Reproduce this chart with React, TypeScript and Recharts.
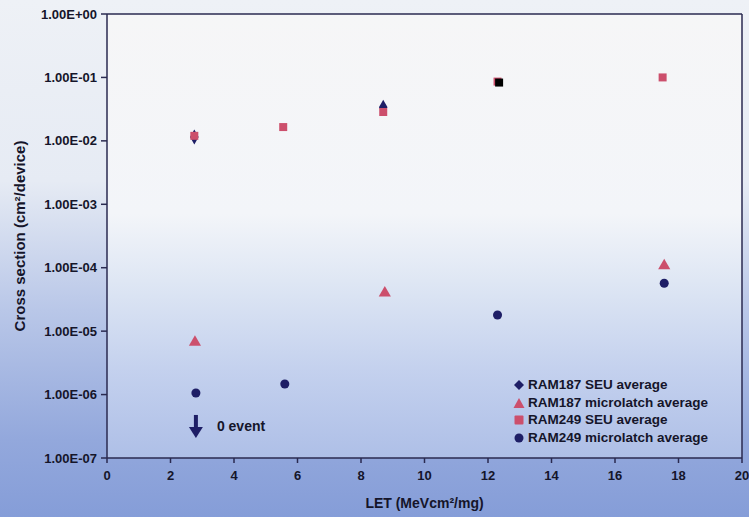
import { ScatterChart, Scatter, XAxis, YAxis, ZAxis, ReferenceLine, CartesianGrid } from 'recharts';

// valeurs (LET en MeVcm²/mg, section efficace en cm²/device)
const RAM187_SEU_X = [2.75, 8.7];
const RAM187_SEU_Y = [1.15e-2, 3.4e-2];
const RAM187_ML_X = [2.77, 8.75, 17.55];
const RAM187_ML_Y = [6.7e-6, 4.0e-5, 1.07e-4];
const RAM249_SEU_X = [2.75, 5.55, 8.7, 12.3, 17.5];
const RAM249_SEU_Y = [1.2e-2, 1.65e-2, 2.85e-2, 8.6e-2, 1.0e-1];
const RAM249_ML_X = [2.8, 5.6, 12.3, 17.55];
const RAM249_ML_Y = [1.06e-6, 1.47e-6, 1.8e-5, 5.7e-5];
const MARK_X = [12.35];
const MARK_Y = [8.3e-2];
const ZERO_EVENT_X = [2.8];
const ZERO_EVENT_Y = [3.2e-7];

const X_TICKS = [0, 2, 4, 6, 8, 10, 12, 14, 16, 18, 20];
const Y_TICKS = [1e-7, 1e-6, 1e-5, 1e-4, 1e-3, 1e-2, 1e-1, 1];

const NAVY = '#1e1e66';
const RED = '#cc4f6c';
const AXIS = '#2a2a50';
const TEXT = '#15152a';
const FONT = '"Liberation Sans", Arial, sans-serif';

const toPoints = (xs: number[], ys: number[]) => xs.map((x, i) => ({ x, y: ys[i] }));

const fmtSci = (v: number) => {
    const e = Math.round(Math.log10(v));
    return `1.00E${e >= 0 ? '+' : '-'}${String(Math.abs(e)).padStart(2, '0')}`;
};

const LEGEND = [
    { label: 'RAM187 SEU average', shape: 'diamond', color: NAVY },
    { label: 'RAM187 microlatch average', shape: 'triangle', color: RED },
    { label: 'RAM249 SEU average', shape: 'square', color: RED },
    { label: 'RAM249 microlatch average', shape: 'circle', color: NAVY },
];

function LegendIcon({ shape, color }: { shape: string; color: string }) {
    return (
        <svg width={12} height={12} style={{ marginRight: 3 }}>
            {shape === 'diamond' && <polygon points="6,1 11,6 6,11 1,6" fill={color} />}
            {shape === 'triangle' && <polygon points="6,1 11.5,11 0.5,11" fill={color} />}
            {shape === 'square' && <rect x={1.5} y={1.5} width={9} height={9} rx={1} fill={color} />}
            {shape === 'circle' && <circle cx={6} cy={6} r={4.5} fill={color} />}
        </svg>
    );
}

function LegendBox() {
    return (
        <div style={{
            position: 'absolute', left: 513, top: 376,
            fontFamily: FONT, fontWeight: 700, fontSize: 13.5, color: TEXT, lineHeight: '17.7px',
        }}>
            {LEGEND.map((l) => (
                <div key={l.label} style={{ display: 'flex', alignItems: 'center', whiteSpace: 'nowrap' }}>
                    <LegendIcon shape={l.shape} color={l.color} />
                    <span>{l.label}</span>
                </div>
            ))}
        </div>
    );
}

// flèche "0 event"
const ZeroEvent = (props: any) => {
    const { cx, cy } = props;
    return (
        <g>
            <line x1={cx} y1={cy - 11} x2={cx} y2={cy + 3} stroke={NAVY} strokeWidth={4} />
            <polygon points={`${cx - 7},${cy + 1} ${cx + 7},${cy + 1} ${cx},${cy + 12}`} fill={NAVY} />
            <text x={cx + 21} y={cy + 5} fontFamily={FONT} fontWeight={700} fontSize={14} fill={TEXT}>0 event</text>
        </g>
    );
};

export default function App() {
    return (
        <div style={{
            position: 'absolute', left: 0, top: 0, width: 749, height: 517,
            background: 'linear-gradient(180deg, #eef1f6 0%, #e6ebf4 35%, #b9c7e8 60%, #93a8dc 85%, #859dd8 100%)',
        }}>
            <svg width={0} height={0} style={{ position: 'absolute' }}>
                <defs>
                    <linearGradient id="plotBg" x1="0" y1="0" x2="0" y2="1">
                        <stop offset="0%" stopColor="#f6f6f7" />
                        <stop offset="45%" stopColor="#f3f5f9" />
                        <stop offset="60%" stopColor="#dfe7f4" />
                        <stop offset="80%" stopColor="#c4d1ee" />
                        <stop offset="100%" stopColor="#aebfe7" />
                    </linearGradient>
                </defs>
            </svg>
            <ScatterChart width={749} height={517} margin={{ top: 14, right: 7, bottom: 0, left: 0 }}>
                <CartesianGrid fill="url(#plotBg)" horizontal={false} vertical={false} />
                <XAxis
                    type="number" dataKey="x" domain={[0, 20]} ticks={X_TICKS} height={59}
                    allowDataOverflow stroke={AXIS} strokeWidth={1.5} tickSize={5} tickMargin={8}
                    tick={{ fontFamily: FONT, fontWeight: 700, fontSize: 13, fill: TEXT }}
                    label={{ value: 'LET (MeVcm²/mg)', position: 'insideBottom', offset: 9, fontFamily: FONT, fontWeight: 700, fontSize: 14, fill: TEXT }}
                />
                <YAxis
                    type="number" dataKey="y" scale="log" domain={[1e-7, 1]} ticks={Y_TICKS} width={107}
                    allowDataOverflow stroke={AXIS} strokeWidth={1.5} tickSize={6} tickMargin={4}
                    tickFormatter={fmtSci}
                    tick={{ fontFamily: FONT, fontWeight: 700, fontSize: 13, fill: TEXT }}
                    label={{ value: 'Cross section (cm²/device)', angle: -90, position: 'insideLeft', offset: 20, style: { textAnchor: 'middle' }, fontFamily: FONT, fontWeight: 700, fontSize: 15, fill: TEXT }}
                />
                <ZAxis range={[80, 80]} />
                <ReferenceLine y={1} stroke={AXIS} strokeWidth={1.5} />
                <ReferenceLine x={20} stroke={AXIS} strokeWidth={1.5} />
                <Scatter name="RAM187 SEU average" data={toPoints(RAM187_SEU_X, RAM187_SEU_Y)} shape="diamond" fill={NAVY} isAnimationActive={false} />
                <Scatter name="RAM249 SEU average" data={toPoints(RAM249_SEU_X, RAM249_SEU_Y)} shape="square" fill={RED} isAnimationActive={false} />
                <Scatter name="RAM187 microlatch average" data={toPoints(RAM187_ML_X, RAM187_ML_Y)} shape="triangle" fill={RED} isAnimationActive={false} />
                <Scatter name="RAM249 microlatch average" data={toPoints(RAM249_ML_X, RAM249_ML_Y)} shape="circle" fill={NAVY} isAnimationActive={false} />
                <Scatter name="mark" data={toPoints(MARK_X, MARK_Y)} shape="square" fill="#000" legendType="none" isAnimationActive={false} />
                <Scatter name="0 event" data={toPoints(ZERO_EVENT_X, ZERO_EVENT_Y)} shape={ZeroEvent} legendType="none" isAnimationActive={false} />
            </ScatterChart>
            <LegendBox />
        </div>
    );
}
